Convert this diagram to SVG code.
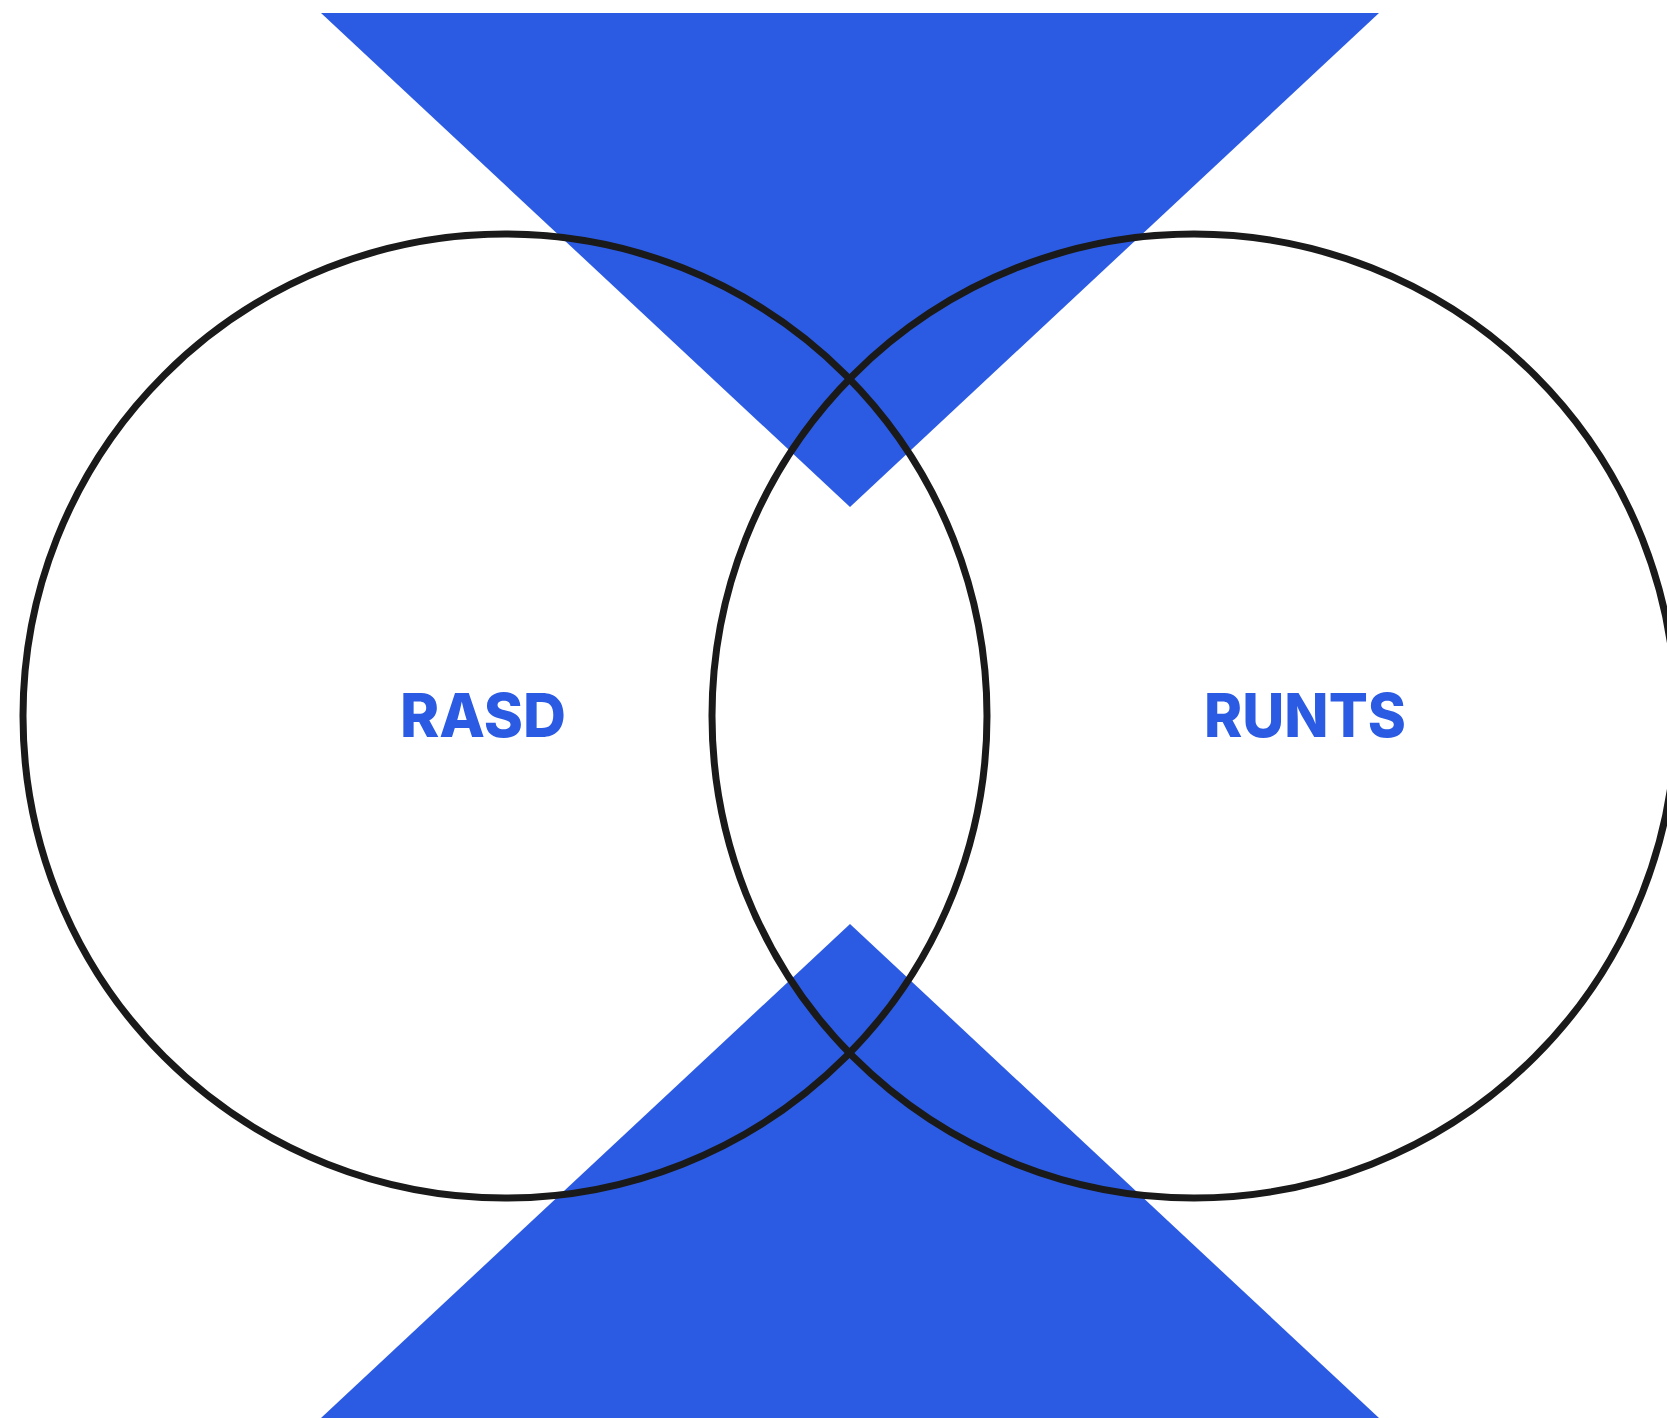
<svg xmlns="http://www.w3.org/2000/svg" width="1667" height="1418" viewBox="0 0 1667 1418">
<style>
.tri{fill:#2b5be3;}
.ring{fill:none;stroke:#1a1a1a;stroke-width:7;}
.lbl{font-family:Inter,"Liberation Sans",sans-serif;font-weight:800;font-size:61px;fill:#2b5be3;text-anchor:middle;}
</style>
<rect width="1667" height="1418" fill="#ffffff"/>
<g id="shapes">
<polygon id="top-triangle" class="tri" points="321,13 1379,13 850,507"/>
<polygon id="bottom-triangle" class="tri" points="850,924 1379,1418 321,1418"/>
</g>
<g id="connectors"></g>
<g id="node-rasd">
<circle class="ring" cx="505" cy="716" r="482"/>
<text class="lbl" x="483" y="737" textLength="166" lengthAdjust="spacingAndGlyphs">RASD</text>
</g>
<g id="node-runts">
<circle class="ring" cx="1194" cy="716" r="482"/>
<text class="lbl" x="1305" y="737" textLength="202" lengthAdjust="spacingAndGlyphs">RUNTS</text>
</g>
</svg>
